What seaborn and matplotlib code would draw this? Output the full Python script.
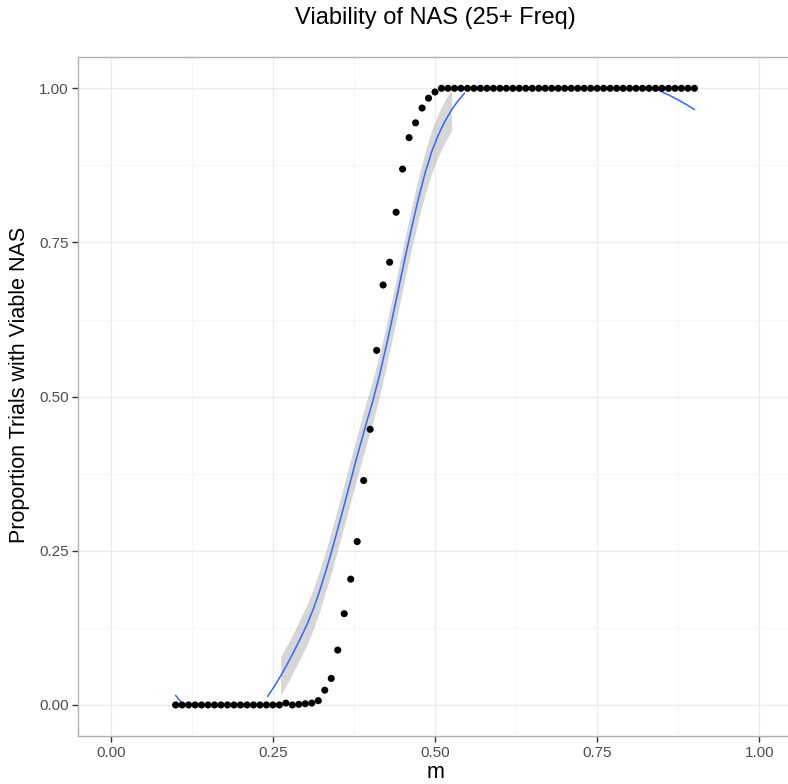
import numpy as np
import pandas as pd
import matplotlib
matplotlib.use("Agg")
import matplotlib.pyplot as plt
import seaborn as sns

# m values (0.10 .. 0.90) and proportion of trials with a viable NAS
m = [0.10, 0.11, 0.12, 0.13, 0.14, 0.15, 0.16, 0.17, 0.18, 0.19,
     0.20, 0.21, 0.22, 0.23, 0.24, 0.25, 0.26, 0.27, 0.28, 0.29,
     0.30, 0.31, 0.32, 0.33, 0.34, 0.35, 0.36, 0.37, 0.38, 0.39,
     0.40, 0.41, 0.42, 0.43, 0.44, 0.45, 0.46, 0.47, 0.48, 0.49,
     0.50, 0.51, 0.52, 0.53, 0.54, 0.55, 0.56, 0.57, 0.58, 0.59,
     0.60, 0.61, 0.62, 0.63, 0.64, 0.65, 0.66, 0.67, 0.68, 0.69,
     0.70, 0.71, 0.72, 0.73, 0.74, 0.75, 0.76, 0.77, 0.78, 0.79,
     0.80, 0.81, 0.82, 0.83, 0.84, 0.85, 0.86, 0.87, 0.88, 0.89,
     0.90]
viable = [0.0, 0.0, 0.0, 0.0, 0.0, 0.0, 0.0, 0.0, 0.0, 0.0,
          0.0, 0.0, 0.0, 0.0, 0.0, 0.0, 0.0, 0.003, 0.0, 0.001,
          0.002, 0.003, 0.007, 0.024, 0.043, 0.089, 0.148, 0.204, 0.265, 0.364,
          0.447, 0.575, 0.681, 0.718, 0.799, 0.869, 0.920, 0.944, 0.968, 0.984,
          0.994, 1.0, 1.0, 1.0, 1.0, 1.0, 1.0, 1.0, 1.0, 1.0,
          1.0, 1.0, 1.0, 1.0, 1.0, 1.0, 1.0, 1.0, 1.0, 1.0,
          1.0, 1.0, 1.0, 1.0, 1.0, 1.0, 1.0, 1.0, 1.0, 1.0,
          1.0, 1.0, 1.0, 1.0, 1.0, 1.0, 1.0, 1.0, 1.0, 1.0,
          1.0]

ticks = [0.00, 0.25, 0.50, 0.75, 1.00]
tick_labels = ["0.00", "0.25", "0.50", "0.75", "1.00"]
minor = [0.125, 0.375, 0.625, 0.875]

df = pd.DataFrame({"m": m, "viable": viable})


def local_rows(x, x0, q):
    # rows giving the local quadratic value and slope at x0 (tricube weights)
    d = np.abs(x - x0)
    h = np.sort(d)[q - 1]
    w = np.clip(1 - (d / h) ** 3, 0, None) ** 3
    X = np.column_stack([np.ones(len(x)), x - x0, (x - x0) ** 2])
    XtW = X.T * w
    B = np.linalg.solve(XtW @ X, XtW)
    return B[0], B[1]


def kd_vertices(x, fc):
    xs = np.sort(x)
    pad = 0.005 * (xs[-1] - xs[0])
    verts = {xs[0] - pad, xs[-1] + pad}
    cells = [(0, len(xs) - 1)]
    while cells:
        l, u = cells.pop()
        if u - l + 1 <= fc:
            continue
        mid = (l + u) // 2
        verts.add(xs[mid])
        cells += [(l, mid), (mid + 1, u)]
    return np.array(sorted(verts))


def loess(x, y, x_new, span=0.75, cell=0.2):
    # loess with degree 2 and kd-tree vertex interpolation (R defaults)
    n = len(x)
    q = int(np.floor(n * span))
    fc = int(np.floor(n * span * cell))
    v = kd_vertices(x, fc)
    V0, V1 = zip(*[local_rows(x, vj, q) for vj in v])
    V0, V1 = np.array(V0), np.array(V1)

    def operator(pts):
        rows = []
        for p in pts:
            j = min(max(np.searchsorted(v, p) - 1, 0), len(v) - 2)
            hh = v[j + 1] - v[j]
            t = (p - v[j]) / hh
            h00 = 2 * t ** 3 - 3 * t ** 2 + 1
            h10 = t ** 3 - 2 * t ** 2 + t
            h01 = -2 * t ** 3 + 3 * t ** 2
            h11 = t ** 3 - t ** 2
            rows.append(h00 * V0[j] + h10 * hh * V1[j]
                        + h01 * V0[j + 1] + h11 * hh * V1[j + 1])
        return np.array(rows)

    L = operator(x)
    IL = np.eye(n) - L
    M = IL.T @ IL
    d1 = np.trace(M)
    d2 = np.trace(M @ M)
    resid = y - L @ y
    s = np.sqrt(resid @ resid / d1)
    Ln = operator(x_new)
    fit = Ln @ y
    se = s * np.sqrt((Ln ** 2).sum(axis=1))
    dof = d1 ** 2 / d2
    z = 1.959964
    t = z + (z ** 3 + z) / (4 * dof) + (5 * z ** 5 + 16 * z ** 3 + 3 * z) / (96 * dof ** 2)
    return fit, fit - t * se, fit + t * se


x = df["m"].to_numpy()
y = df["viable"].to_numpy()
grid = np.linspace(x.min(), x.max(), 80)
fit, lo, hi = loess(x, y, grid)

# values outside the 0..1 limits are dropped
fit_show = np.where((fit >= 0) & (fit <= 1), fit, np.nan)
band_ok = (lo >= 0) & (hi <= 1)

sns.set_theme(style="white")
plt.rcParams["font.family"] = ["Liberation Sans", "DejaVu Sans"]

fig = plt.figure(figsize=(7.88, 7.84), dpi=100)
ax = fig.add_axes([0.0994, 0.0615, 0.9053, 0.8652])

ax.fill_between(grid, lo, hi, where=band_ok, color="#999999", alpha=0.4,
                linewidth=0, zorder=2)
ax.plot(grid, fit_show, color="#3366FF", linewidth=1.1, zorder=3)
sns.scatterplot(data=df, x="m", y="viable", color="black", s=26,
                edgecolor="none", ax=ax, zorder=4)

ax.set_xlim(-0.05, 1.05)
ax.set_ylim(-0.05, 1.05)
ax.set_xticks(ticks)
ax.set_xticklabels(tick_labels)
ax.set_yticks(ticks)
ax.set_yticklabels(tick_labels)
ax.set_xticks(minor, minor=True)
ax.set_yticks(minor, minor=True)

ax.grid(which="major", color="#EBEBEB", linewidth=0.9, zorder=0)
ax.grid(which="minor", color="#F6F6F6", linewidth=0.8, zorder=0)
ax.set_axisbelow(True)
for sp in ax.spines.values():
    sp.set_color("#B0B0B0")
    sp.set_linewidth(1.0)

ax.tick_params(which="major", length=4, width=1, color="#333333",
               labelsize=11, labelcolor="#4D4D4D", pad=3,
               left=True, bottom=True)
ax.tick_params(which="minor", length=0)

ax.set_xlabel("m", fontsize=15.5, color="black", labelpad=2)
ax.set_ylabel("Proportion Trials with Viable NAS", fontsize=15.5, color="black")
ax.yaxis.set_label_coords(-0.082, 0.517)
ax.yaxis.label.set_va("center")

fig.text(435 / 788, 1 - 18 / 784, "Viability of NAS (25+ Freq)",
         fontsize=17, ha="center", va="center", color="black")

fig.savefig("out.png", dpi=100)
